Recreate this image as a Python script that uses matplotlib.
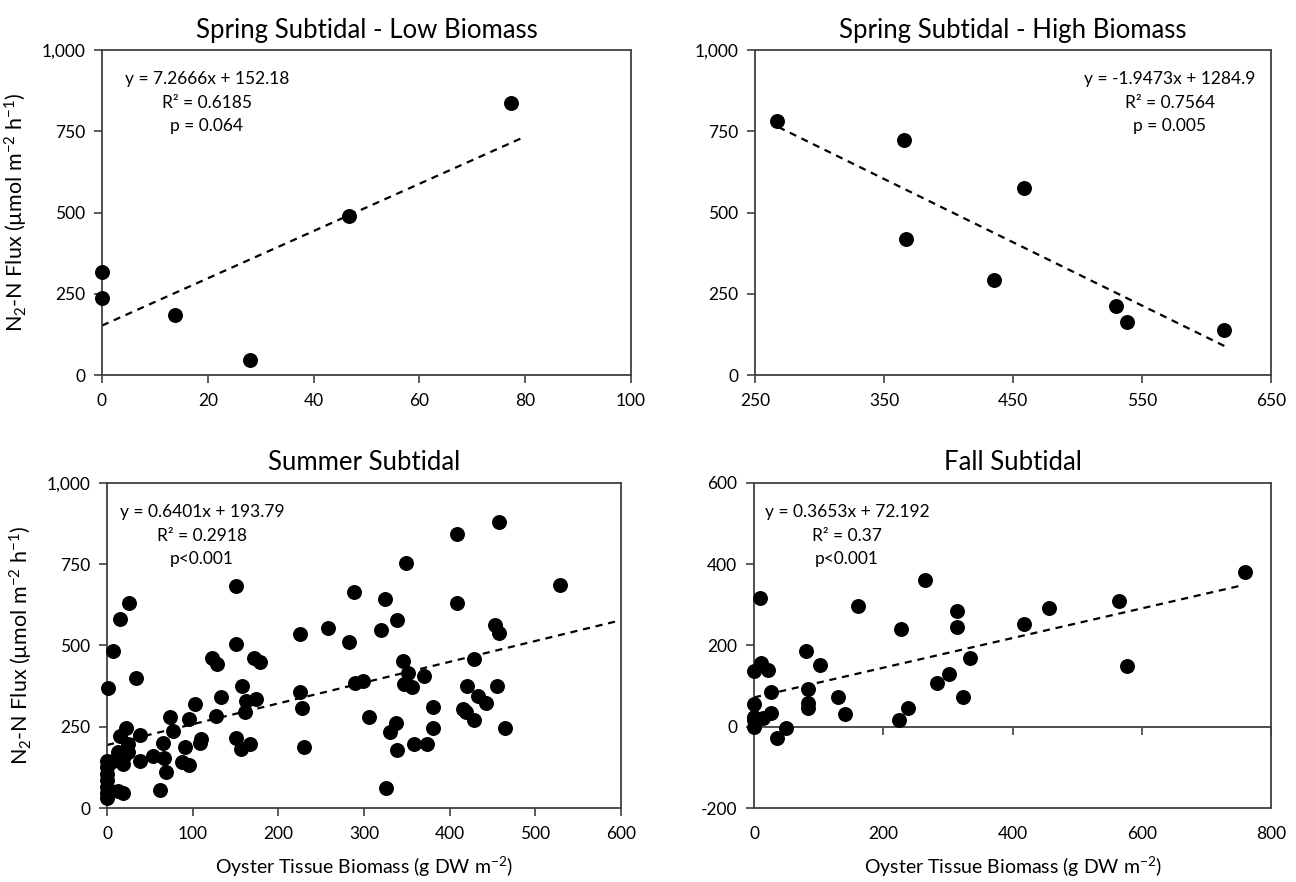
import matplotlib
matplotlib.use("Agg")
import matplotlib.pyplot as plt
from matplotlib.ticker import FuncFormatter

plt.rcParams['font.family'] = ['Lato', 'DejaVu Sans']
plt.rcParams['mathtext.fontset'] = 'custom'
plt.rcParams['mathtext.rm'] = 'Lato'
plt.rcParams['mathtext.it'] = 'Lato:italic'
plt.rcParams['mathtext.bf'] = 'Lato:bold'

# ── data: oyster tissue biomass (g DW m-2) vs N2-N flux (umol m-2 h-1) ──────

spring_low_x = [0, 0, 13.8, 28, 46.8, 77.3]
spring_low_y = [318, 236, 185, 46, 490, 837]

spring_high_x = [266.8, 365.6, 367.3, 435.5, 458.6, 530, 538.8, 614]
spring_high_y = [783, 723, 420, 292, 576, 213, 162, 138]

summer_x = [151, 288, 26, 15, 7, 1, 34, 225, 258, 283, 150, 123, 128, 171,
            179, 158, 225, 289, 299, 162, 174, 161, 133, 127, 103, 96, 228,
            306, 74, 77, 38, 22, 15, 108, 110, 150, 156, 167, 230, 65, 91,
            96, 87, 69, 67, 54, 39, 62, 19, 13, 25, 25, 19, 13, 15, 7, 20,
            0, 0, 0, 0, 0, 0, 0,
            457, 408, 349, 529, 324, 409, 338, 320, 453, 458, 345, 428, 351,
            370, 347, 356, 420, 455, 433, 442, 381, 415, 419, 428, 337, 330,
            381, 465, 339, 358, 373, 326]
summer_y = [684, 664, 631, 580, 483, 370, 399, 534, 554, 512, 505, 462, 442,
            462, 450, 375, 358, 385, 390, 329, 334, 294, 340, 283, 319, 275,
            307, 281, 281, 237, 225, 247, 222, 201, 212, 214, 183, 196, 188,
            199, 189, 132, 143, 111, 155, 160, 145, 55, 45, 53, 196, 171, 135,
            171, 150, 145, 160,
            145, 125, 105, 85, 65, 45, 30,
            881, 843, 754, 685, 643, 630, 578, 549, 562, 537, 452, 457, 414,
            406, 380, 373, 375, 375, 345, 322, 311, 304, 296, 271, 261, 235,
            247, 247, 179, 198, 198, 63]

fall_x = [10, 265, 161, 314, 314, 227, 417, 80, 102, 11, 21, 0, 334, 302,
          283, 324, 27, 83, 83, 83, 130, 140, 239, 225, 0, 0, 0, 0, 14, 26,
          35, 49, 457, 564, 577, 759]
fall_y = [316, 360, 296, 286, 246, 241, 253, 187, 152, 156, 140, 136, 170,
          131, 107, 74, 86, 93, 58, 47, 72, 31, 47, 17, 55, 25, 17, -1, 21,
          33, -27, -2, 293, 310, 150, 380]

# trendline coefficients (slope, intercept) and fit range
spring_low_fit = (7.2666, 152.18, 0, 80)
spring_high_fit = (-1.9473, 1284.9, 268, 615)
summer_fit = (0.6401, 193.79, 0, 595)
fall_fit = (0.3653, 72.192, 0, 752)

spring_low_stats = ["y = 7.2666x + 152.18", "R² = 0.6185", "p = 0.064"]
spring_high_stats = ["y = -1.9473x + 1284.9", "R² = 0.7564", "p = 0.005"]
summer_stats = ["y = 0.6401x + 193.79", "R² = 0.2918", "p<0.001"]
fall_stats = ["y = 0.3653x + 72.192", "R² = 0.37", "p<0.001"]

YLABEL = r"N$_2$-N Flux (µmol m$^{-2}$ h$^{-1}$)"
XLABEL = r"Oyster Tissue Biomass (g DW m$^{-2}$)"

FRAME = '#404040'


def thousands(v, pos):
    return f"{v:,.0f}"


def style_axes(ax):
    for s in ax.spines.values():
        s.set_color(FRAME)
        s.set_linewidth(1.3)
    ax.tick_params(direction='out', length=6, width=1.2, color=FRAME,
                   labelsize=12.5, pad=6)
    ax.tick_params(axis='x', pad=7)


def panel(ax, x, y, fit, stats, title, xlim, xticks, ylim, yticks, text_x):
    ax.scatter(x, y, s=95, color='black', zorder=3, clip_on=False)
    m, b, x0, x1 = fit
    ax.plot([x0, x1], [m * x0 + b, m * x1 + b], color='black', lw=1.6,
            dashes=(3.2, 2.6), zorder=2)
    ax.set_xlim(*xlim)
    ax.set_ylim(*ylim)
    ax.set_xticks(xticks)
    ax.set_yticks(yticks)
    ax.yaxis.set_major_formatter(FuncFormatter(thousands))
    ax.set_title(title, fontsize=18.5, pad=9)
    for ty, line in zip([0.91, 0.838, 0.765], stats):
        ax.text(text_x, ty, line, transform=ax.transAxes, ha='center',
                va='center', fontsize=12.5)
    style_axes(ax)


fig = plt.figure(figsize=(12.96, 8.82), dpi=100)

ax1 = fig.add_axes([0.0787, 0.5748, 0.408, 0.3685])
ax2 = fig.add_axes([0.5826, 0.5748, 0.398, 0.3685])
ax3 = fig.add_axes([0.0826, 0.0839, 0.3966, 0.3685])
ax4 = fig.add_axes([0.5818, 0.0839, 0.399, 0.3685])

panel(ax1, spring_low_x, spring_low_y, spring_low_fit, spring_low_stats,
      "Spring Subtidal - Low Biomass", (0, 100), range(0, 101, 20),
      (0, 1000), range(0, 1001, 250), 0.198)
panel(ax2, spring_high_x, spring_high_y, spring_high_fit, spring_high_stats,
      "Spring Subtidal - High Biomass", (250, 650), range(250, 651, 100),
      (0, 1000), range(0, 1001, 250), 0.804)
panel(ax3, summer_x, summer_y, summer_fit, summer_stats,
      "Summer Subtidal", (0, 600), range(0, 601, 100),
      (0, 1000), range(0, 1001, 250), 0.185)
panel(ax4, fall_x, fall_y, fall_fit, fall_stats,
      "Fall Subtidal", (0, 800), range(0, 801, 200),
      (-200, 600), range(-200, 601, 200), 0.18)

# fall panel: x axis line sits at zero, labels stay at the bottom edge
ax4.tick_params(axis='x', length=0, pad=13)
zero_axis = ax4.secondary_xaxis(0.25)
zero_axis.set_xticks(range(0, 801, 200))
zero_axis.set_xticklabels([])
zero_axis.spines['bottom'].set_color(FRAME)
zero_axis.spines['bottom'].set_linewidth(1.3)
zero_axis.tick_params(direction='out', length=6, width=1.2, color=FRAME)

for ax in (ax1, ax3):
    ax.set_ylabel(YLABEL, fontsize=15.5, labelpad=8)
for ax in (ax3, ax4):
    ax.set_xlabel(XLABEL, fontsize=14, labelpad=9)

fig.savefig("out.png", dpi=100)
